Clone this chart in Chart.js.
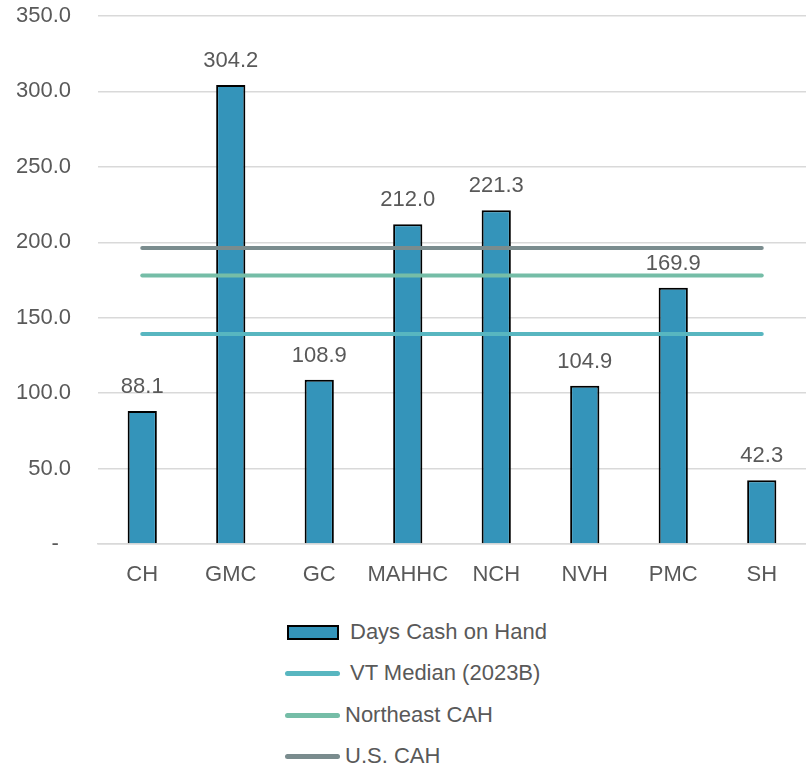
<!DOCTYPE html>
<html>
<head>
<meta charset="utf-8">
<script src="https://cdn.jsdelivr.net/npm/chart.js@4.4.0/dist/chart.umd.min.js"></script>
<style>
  html, body { margin: 0; padding: 0; background: #fff; }
  #wrap { position: relative; width: 806px; height: 768px; }
  #chartBox { position: absolute; left: 0; top: 0; width: 806px; height: 600px; }
  #legend { position: absolute; left: 0; top: 612px; width: 806px; font-family: "Liberation Sans", Arial, sans-serif; font-size: 22px; color: #595959; }
</style>
</head>
<body>
<div id="wrap">
  <div id="chartBox"><canvas id="c" width="806" height="600"></canvas></div>
  <div id="legend"></div>
</div>
<script>
const categories = ["CH", "GMC", "GC", "MAHHC", "NCH", "NVH", "PMC", "SH"];
const daysCashOnHand = [88.1, 304.2, 108.9, 212.0, 221.3, 104.9, 169.9, 42.3];
const vtMedian = [139.2, 139.2, 139.2, 139.2, 139.2, 139.2, 139.2, 139.2];
const northeastCAH = [178.0, 178.0, 178.0, 178.0, 178.0, 178.0, 178.0, 178.0];
const usCAH = [196.2, 196.2, 196.2, 196.2, 196.2, 196.2, 196.2, 196.2];
const yTicks = [0, 50, 100, 150, 200, 250, 300, 350];

const FONT = "'Liberation Sans', Arial, sans-serif";
const TXT = "#595959";

const dataLabels = {
  id: 'dataLabels',
  afterDatasetsDraw(chart) {
    const meta = chart.getDatasetMeta(0);
    const ctx = chart.ctx;
    ctx.save();
    ctx.font = "22px " + FONT;
    ctx.fillStyle = TXT;
    ctx.textAlign = 'center';
    ctx.textBaseline = 'bottom';
    meta.data.forEach((bar, i) => {
      ctx.fillText(daysCashOnHand[i].toFixed(1), bar.x, bar.y - 13);
    });
    ctx.restore();
  }
};

const chart = new Chart(document.getElementById('c'), {
  type: 'bar',
  data: {
    labels: categories,
    datasets: [
      { type: 'bar', label: 'Days Cash on Hand', data: daysCashOnHand, backgroundColor: '#3494BA', borderColor: '#000000', borderWidth: 2, barPercentage: 0.33, categoryPercentage: 1.0, order: 10 },
      { type: 'line', label: 'VT Median (2023B)', data: vtMedian, borderColor: '#58B6C0', borderWidth: 4, pointRadius: 0, borderCapStyle: 'round', fill: false, order: 3 },
      { type: 'line', label: 'Northeast CAH', data: northeastCAH, borderColor: '#75BDA7', borderWidth: 4, pointRadius: 0, borderCapStyle: 'round', fill: false, order: 2 },
      { type: 'line', label: 'U.S. CAH', data: usCAH, borderColor: '#7A8C8E', borderWidth: 4, pointRadius: 0, borderCapStyle: 'round', fill: false, order: 1 }
    ]
  },
  options: {
    responsive: false,
    animation: false,
    layout: { padding: 0 },
    plugins: { legend: { display: false }, tooltip: { enabled: false } },
    scales: {
      x: {
        grid: { display: false, drawTicks: false },
        border: { display: true, color: '#D9D9D9', width: 1.5 },
        ticks: { color: TXT, font: { family: FONT, size: 22 }, padding: 18, maxRotation: 0 },
        afterFit(s) { s.height = 56; }
      },
      y: {
        min: 0, max: 350,
        afterBuildTicks(s) { s.ticks = yTicks.map(v => ({ value: v })); },
        grid: { color: '#D9D9D9', lineWidth: 1.5, drawTicks: false },
        border: { display: false },
        ticks: {
          color: TXT, font: { family: FONT, size: 22 }, padding: 27,
          callback: v => v === 0 ? '-  ' : v.toFixed(1)
        },
        afterFit(s) { s.width = 98; s.paddingTop = 16; }
      }
    }
  },
  plugins: [dataLabels]
});

// legend built from the chart's datasets
const legend = document.getElementById('legend');
const legendY = [20, 61, 103, 144];
const textX = [350, 350, 345, 345];
chart.data.datasets.forEach((ds, i) => {
  const sw = document.createElement('div');
  sw.style.position = 'absolute';
  if (ds.type === 'bar') {
    sw.style.left = '287px'; sw.style.top = (legendY[i] - 7) + 'px';
    sw.style.width = '48px'; sw.style.height = '11px';
    sw.style.background = ds.backgroundColor; sw.style.border = '2px solid #000';
  } else {
    sw.style.left = '285px'; sw.style.top = (legendY[i] - 2) + 'px';
    sw.style.width = '55px'; sw.style.height = '5px'; sw.style.borderRadius = '3px';
    sw.style.background = ds.borderColor;
  }
  legend.appendChild(sw);
  const t = document.createElement('div');
  t.textContent = ds.label;
  t.style.position = 'absolute';
  t.style.left = textX[i] + 'px';
  t.style.top = (legendY[i] - 13) + 'px';
  t.style.lineHeight = '26px';
  t.style.whiteSpace = 'nowrap';
  legend.appendChild(t);
});
</script>
</body>
</html>
